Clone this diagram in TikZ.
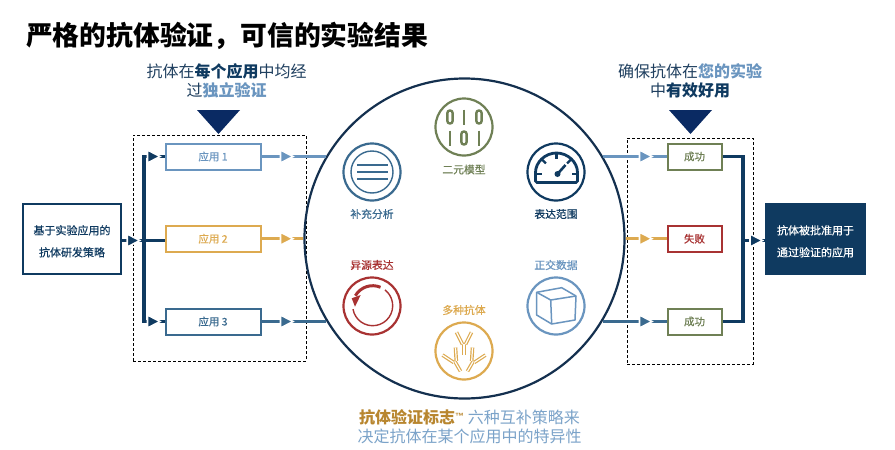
\documentclass[tikz,border=0pt]{standalone}
\usepackage{fontspec}
\setmainfont{Noto Sans CJK SC}
\newfontfamily\medfont[FakeBold=0.5]{Noto Sans CJK SC}
\newfontfamily\tmfont{Liberation Sans}
\usetikzlibrary{decorations.markings}

\definecolor{navyc}{HTML}{0F3A60}
\definecolor{deepc}{HTML}{0A2A63}
\definecolor{ringc}{HTML}{14304F}
\definecolor{bluec}{HTML}{6A95BF}
\definecolor{footc}{HTML}{7BA3C9}
\definecolor{steelc}{HTML}{3A6A8F}
\definecolor{goldc}{HTML}{DDAA50}
\definecolor{brownc}{HTML}{B8862F}
\definecolor{olivec}{HTML}{6F8055}
\definecolor{redc}{HTML}{A83232}
\definecolor{inkc}{HTML}{1F3F5F}

\tikzset{
	box/.style={draw=#1, line width=2pt, fill=white, minimum width=95pt, minimum height=26pt, inner sep=0pt, text=#1, font=\fontsize{10.5}{12}\selectfont\medfont},
	okbox/.style={box=#1, minimum width=54pt},
	bigbox/.style={draw=navyc, line width=2pt, minimum width=98.5pt, minimum height=70pt, inner sep=0pt, align=center, font=\fontsize{11}{22}\selectfont\medfont},
	zone/.style={draw, dash pattern=on 3pt off 2pt, line width=0.8pt, inner sep=0pt},
	badge/.style={draw=#1, line width=2.2pt, circle, minimum size=57pt, inner sep=0pt},
	caption/.style={text=#1, inner sep=0pt, font=\fontsize{10.8}{12}\selectfont\medfont},
	headline/.style={text=inkc, inner sep=0pt, align=center, font=\fontsize{16}{19}\selectfont},
	flow/.style 2 args={draw=#1, line width=3.3pt, postaction={decorate, decoration={markings, mark=at position #2 with {\draw[white, fill=#1, line width=1.6pt] (-6,-6.5) -- (6.5,0) -- (-6,6.5) -- cycle;}}}},
	plain/.style={draw=#1, line width=3.3pt},
	twin/.style={goldc, line width=1.2pt, double=white, double distance=1.2pt}
}

\begin{document}
\begin{tikzpicture}[x=1pt, y=-1pt]
	\useasboundingbox[fill=white] (0, 0) rectangle (895, 450);

	\node[anchor=west, inner sep=0pt, font=\fontsize{26.8}{30}\selectfont\bfseries] (title) at (26, 35.5) {严格的抗体验证，可信的实验结果};

	\node[headline] (headleft) at (226.5, 80.5) {抗体在\textcolor{navyc}{\bfseries 每个应用}中均经\\过\textcolor{bluec}{\bfseries 独立验证}};
	\node[headline] (headright) at (690, 80.5) {确保抗体在\textcolor{bluec}{\bfseries 您的实验}\\中\textcolor{navyc}{\bfseries 有效好用}};

	\fill[deepc] (197, 110) -- (240, 110) -- (218.5, 134) -- cycle;
	\fill[deepc] (669, 110) -- (712, 110) -- (690.5, 134) -- cycle;

	\node[zone, minimum width=173pt, minimum height=226pt] (zoneleft) at (219.5, 248) {};
	\node[zone, minimum width=126pt, minimum height=226pt] (zoneright) at (690, 251) {};

	\node[draw=ringc, line width=2.2pt, circle, minimum size=320pt, inner sep=0pt] (ring) at (464.5, 238.5) {};

	% boxes
	\node[bigbox, text=navyc] (strategy) at (72, 238.5) {\rule{0pt}{15pt}基于实验应用的\\抗体研发策略};
	\node[box=bluec] (app1) at (213, 156.5) {应用 1};
	\node[box=goldc] (app2) at (213, 238.7) {应用 2};
	\node[box=steelc] (app3) at (213, 321.5) {应用 3};
	\node[okbox=olivec] (ok1) at (694.5, 156.5) {成功};
	\node[okbox=redc] (fail) at (694.5, 238.7) {失败};
	\node[okbox=olivec] (ok3) at (694.5, 321.5) {成功};
	\node[bigbox, fill=navyc, text=white] (approved) at (815.5, 238.5) {\rule{0pt}{15pt}抗体被批准用于\\通过验证的应用};

	% connectors
	\coordinate (fork) at (144, 240.5);
	\coordinate (join) at (743, 240.5);
	\draw[flow={navyc}{11pt}] (strategy.east |- fork) -- (app2.west |- fork);
	\draw[flow={navyc}{-11pt}] (fork) |- (app1.west);
	\draw[flow={navyc}{-11pt}] (fork) |- (app3.west);
	\draw[flow={bluec}{25pt}] (app1.east) -- (ring.149 |- app1);
	\draw[flow={goldc}{25pt}] (app2.east) -- (ring.west |- app2);
	\draw[flow={steelc}{25pt}] (app3.east) -- (ring.211 |- app3);
	\draw[flow={bluec}{-21pt}] (ring.31 |- ok1) -- (ok1.west);
	\draw[flow={goldc}{-21pt}] (ring.east |- fail) -- (fail.west);
	\draw[flow={steelc}{-21pt}] (ring.-31 |- ok3) -- (ok3.west);
	\draw[plain=navyc, line join=miter] (ok1.east) -| (join) |- (ok3.east);
	\draw[flow={navyc}{13pt}] (join) -- (approved.west |- join);

	% badges
	\node[badge=olivec] (binary) at (464, 127) {};
	\node[badge=steelc] (stack) at (372, 172) {};
	\node[badge=navyc] (gauge) at (556, 172) {};
	\node[badge=redc] (cycle) at (372, 306) {};
	\node[badge=bluec] (cube) at (556, 306) {};
	\node[badge=goldc] (antibody) at (464, 351) {};

	\node[caption=olivec] at (464, 169.5) {二元模型};
	\node[caption=steelc] at (372, 214) {补充分析};
	\node[caption=navyc] at (556, 214) {表达范围};
	\node[caption=redc] at (372, 265) {异源表达};
	\node[caption=bluec] at (556, 265) {正交数据};
	\node[caption=goldc] at (464, 310) {多种抗体};

	% binary digits
	\foreach \x/\y in {450/117, 479/117, 464/138}
		\draw[olivec, line width=2.4pt, rounded corners=2.4pt] (\x - 2.6, \y - 6.5) rectangle (\x + 2.6, \y + 6.5);
	\foreach \x/\y in {464/117, 450/138, 479/138}
		\draw[olivec, line width=2.6pt] (\x, \y - 7.5) -- (\x, \y + 7.5);

	% stacked lines
	\draw[steelc, line width=1.4pt] (stack) circle (21);
	\foreach \y in {165, 172, 179}
		\draw[steelc, line width=1.8pt] (357, \y) -- (388, \y);

	% gauge
	\draw[navyc, line width=2.8pt, rounded corners=1.5pt] (535.5, 182.5) -- (535.5, 174) arc[start angle=180, end angle=0, radius=21, y radius=-21] -- (577.5, 182.5) -- cycle;
	\foreach \a in {0, 45, 90, 135, 180}
		\draw[navyc, line width=2.4pt] (556.5, 174) ++(-\a:21) -- ++(-\a:-6);
	\fill[navyc] (557.5, 174) circle (3);
	\draw[navyc, line width=2.6pt] (557.5, 174) -- (565.5, 165);

	% cycle arrow
	\draw[redc, line width=1.4pt] (372.7, 305.7) ++(-190:20) arc[start angle=-190, end angle=-412, radius=20];
	\draw[redc, line width=3pt] (372.7, 305.7) ++(-67:20) arc[start angle=-67, end angle=-150, radius=20];
	\fill[redc] (351.7, 298.3) -- (360.7, 295) -- (355, 306.7) -- cycle;

	% cube
	\draw[bluec, line width=1.5pt, line join=round] (536.7, 292.3) -- (561.7, 287.7) -- (576, 296) -- (575, 320) -- (551.7, 324) -- (536.7, 315) -- cycle;
	\draw[bluec, line width=1.5pt, line join=round] (536.7, 292.3) -- (550.7, 300) -- (576, 296) (550.7, 300) -- (551.7, 324);

	% antibodies
	\foreach \x/\y/\r in {464/344.3/0, 455/361.7/30, 473/361.7/-30} {
		\begin{scope}[shift={(\x, \y)}, rotate=\r]
			\draw[twin] (0, 0) -- (0, 11);
			\draw[twin] (-1.5, 0) -- (-7.5, -12);
			\draw[twin] (1.5, 0) -- (7.5, -12);
		\end{scope}
	}

	\node[inner sep=0pt, align=center, text=footc, font=\fontsize{16}{19}\selectfont] (footer) at (469.5, 426.5) {\textcolor{brownc}{\bfseries 抗体验证标志\raisebox{4pt}{\tmfont\fontsize{9}{9}\selectfont ™}} 六种互补策略来\\决定抗体在某个应用中的特异性};
\end{tikzpicture}
\end{document}
